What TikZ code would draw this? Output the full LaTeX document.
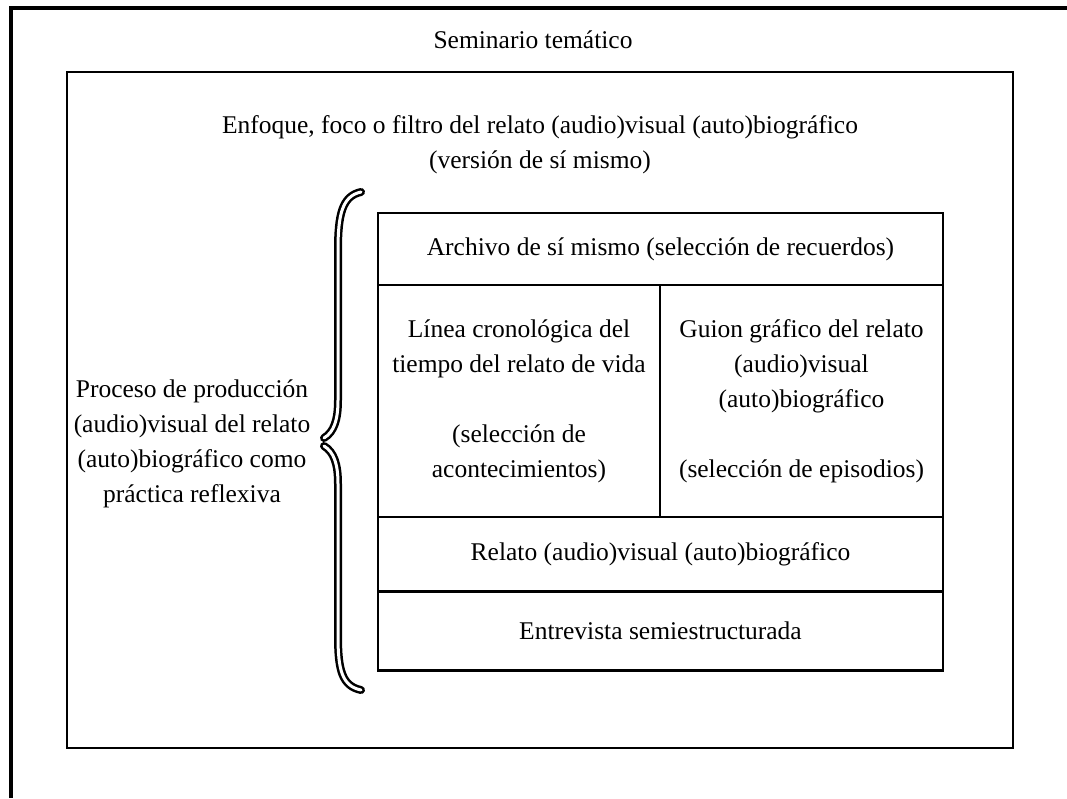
\documentclass[tikz,border=0pt]{standalone}
\usepackage{fontspec}
\setmainfont{Liberation Serif}
\begin{document}
\begin{tikzpicture}[x=1pt,y=-1pt,
  txt/.style={font=\fontsize{25.5}{35}\selectfont, align=center, inner sep=0pt},
  cell/.style={draw=black, line width=2.6pt, rectangle, inner sep=0pt, font=\fontsize{25.5}{35}\selectfont, align=center},
  frame/.style={draw=black, line width=2.2pt, rectangle, inner sep=0pt},
  bracestroke/.style={draw=black, double=white, line width=2.5pt, double distance=3pt, line cap=round}
]
\useasboundingbox (0,0) rectangle (1067,798);
% outer frame (top and left edges visible)
\coordinate (olb) at (11,798);
\coordinate (olt) at (11,8);
\coordinate (ort) at (1067,8);
\draw[line width=4pt] (olb) -- (olt) -- (ort);
\node[txt] (sem) at (533,40) {Seminario temático};
% inner frame
\node[frame, minimum width=946pt, minimum height=676pt] (inner) at (540,410) {};
\node[txt] (enf) at (540,145) {Enfoque, foco o filtro del relato (audio)visual (auto)biográfico\\(versión de sí mismo)};
% boxes
\node[cell, minimum width=565pt, minimum height=72pt] (arch) at (660.5,249) {Archivo de sí mismo (selección de recuerdos)};
\node[cell, minimum width=282pt, minimum height=232pt] (lin) at (519,401) {Línea cronológica del\\tiempo del relato de vida\\[35pt](selección de\\acontecimientos)};
\node[cell, minimum width=283pt, minimum height=232pt] (gui) at (801.5,401) {Guion gráfico del relato\\(audio)visual\\(auto)biográfico\\[35pt](selección de episodios)};
\node[cell, minimum width=565pt, minimum height=74pt] (rel) at (660.5,554) {Relato (audio)visual (auto)biográfico};
\node[cell, minimum width=565pt, minimum height=79pt] (ent) at (660.5,631) {Entrevista semiestructurada};
% left label
\node[txt] (proc) at (192,444) {Proceso de producción\\(audio)visual del relato\\(auto)biográfico como\\práctica reflexiva};
% brace
\coordinate (btop) at (361,192);
\coordinate (btipa) at (324,438);
\coordinate (btipb) at (324,446);
\coordinate (bbot) at (361,690);
\draw[bracestroke] (btop) .. controls (342,196) and (338,215) .. (338,250) -- (338,400) .. controls (338,420) and (334,432) .. (btipa);
\draw[bracestroke] (btipb) .. controls (334,452) and (338,464) .. (338,484) -- (338,636) .. controls (338,670) and (342,686) .. (bbot);
\end{tikzpicture}
\end{document}
